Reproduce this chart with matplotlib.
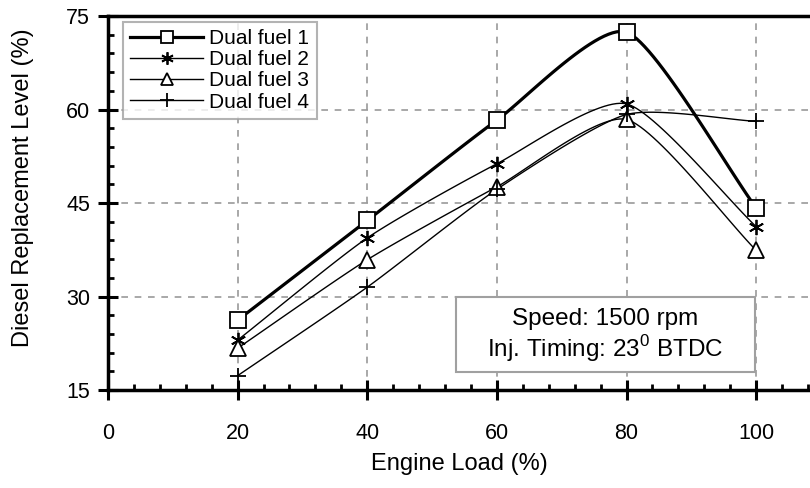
import numpy as np
import matplotlib
matplotlib.use("Agg")
import matplotlib.pyplot as plt
from matplotlib.patches import Rectangle
from matplotlib.ticker import MultipleLocator

plt.rcParams['font.family'] = ['Liberation Sans', 'DejaVu Sans']
plt.rcParams['mathtext.fontset'] = 'custom'
plt.rcParams['mathtext.rm'] = 'Liberation Sans'

# data
load = [20, 40, 60, 80, 100]
dual_fuel_1 = [26.2, 42.2, 58.3, 72.4, 44.2]
dual_fuel_2 = [23.0, 39.4, 51.3, 60.9, 41.2]
dual_fuel_3 = [21.7, 35.9, 47.6, 58.4, 37.4]
dual_fuel_4 = [17.3, 31.5, 47.2, 59.2, 58.1]
labels = ["Dual fuel 1", "Dual fuel 2", "Dual fuel 3", "Dual fuel 4"]


def smooth(x, y, n=30, k=0.65):
    # hermite curve through the points (catmull-rom tangents scaled by k)
    x = np.asarray(x, float)
    y = np.asarray(y, float)
    px = np.concatenate([[2 * x[0] - x[1]], x, [2 * x[-1] - x[-2]]])
    py = np.concatenate([[2 * y[0] - y[1]], y, [2 * y[-1] - y[-2]]])
    t = np.linspace(0, 1, n)
    h00 = 2 * t ** 3 - 3 * t ** 2 + 1
    h10 = t ** 3 - 2 * t ** 2 + t
    h01 = -2 * t ** 3 + 3 * t ** 2
    h11 = t ** 3 - t ** 2
    xs, ys = [], []
    for i in range(1, len(px) - 2):
        for p, out in ((px, xs), (py, ys)):
            m1 = k * (p[i + 1] - p[i - 1]) / 2
            m2 = k * (p[i + 2] - p[i]) / 2
            out.append(h00 * p[i] + h10 * m1 + h01 * p[i + 1] + h11 * m2)
    return np.concatenate(xs), np.concatenate(ys)


fig = plt.figure(figsize=(8.1, 4.88), dpi=100)
ax = fig.add_axes([0.1333, 0.2008, 0.8667, 0.7664])

styles = [
    dict(marker='s', ms=11, lw=2.3),
    dict(marker=(6, 2, 0), ms=11, lw=1.0),
    dict(marker='^', ms=11, lw=1.0),
    dict(marker='+', ms=12, lw=1.0),
]
series = [dual_fuel_1, dual_fuel_2, dual_fuel_3, dual_fuel_4]

handles = []
for vals, st, lab in zip(series, styles, labels):
    sx, sy = smooth(load, vals)
    ax.plot(sx, sy, color='black', lw=st['lw'], zorder=3)
    ax.plot(load, vals, linestyle='none', marker=st['marker'], ms=st['ms'],
            mfc='white', mec='black', mew=1.3, zorder=4)
    h, = ax.plot([], [], color='black', lw=st['lw'], marker=st['marker'],
                 ms=st['ms'] - 2, mfc='white', mec='black', mew=1.3)
    handles.append(h)

ax.set_xlim(0, 108.3)
ax.set_ylim(15, 75)
ax.xaxis.set_major_locator(MultipleLocator(20))
ax.xaxis.set_minor_locator(MultipleLocator(4))
ax.yaxis.set_major_locator(MultipleLocator(15))
ax.yaxis.set_minor_locator(MultipleLocator(3))

ax.grid(True, which='major', color='#9a9a9a', linestyle=(0, (4, 4)), lw=1.2)
ax.set_axisbelow(True)

for s in ['left', 'bottom', 'top']:
    ax.spines[s].set_linewidth(2.5)
ax.spines['right'].set_visible(False)

ax.tick_params(which='major', direction='inout', length=14, width=2.2,
               labelsize=15.5)
ax.tick_params(which='minor', direction='in', length=4.5, width=2)
ax.tick_params(axis='x', which='major', pad=17)
ax.tick_params(axis='y', which='major', pad=6)

ax.set_xlabel("Engine Load (%)", fontsize=17, labelpad=6)
ax.set_ylabel("Diesel Replacement Level (%)", fontsize=17)
ax.yaxis.set_label_coords(-0.105, 0.54)

leg = ax.legend(handles, labels, loc='upper left',
                bbox_to_anchor=(0.0214, 0.984), borderaxespad=0,
                fontsize=15, frameon=True, fancybox=False,
                handlelength=3.5, handletextpad=0.3, labelspacing=0.1,
                borderpad=0.35)
leg.get_frame().set_edgecolor('#a0a0a0')
leg.get_frame().set_linewidth(1.5)

ax.add_patch(Rectangle((0.4957, 0.0481), 0.426, 0.2005, transform=ax.transAxes,
                       facecolor='white', edgecolor='#a0a0a0', lw=1.5,
                       zorder=5))
ax.text(0.708, 0.19, "Speed: 1500 rpm", transform=ax.transAxes,
        ha='center', va='center', fontsize=17.5, zorder=6)
ax.text(0.708, 0.112, r"Inj. Timing: 23$^{\mathregular{0}}$ BTDC",
        transform=ax.transAxes, ha='center', va='center', fontsize=17.5,
        zorder=6)

fig.savefig("out.png", dpi=100)
